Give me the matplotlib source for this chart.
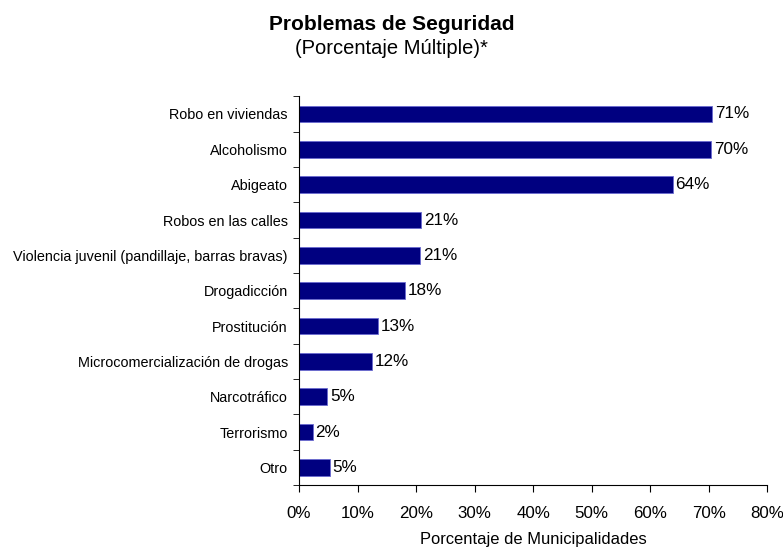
import matplotlib.pyplot as plt
import numpy as np

plt.rcParams['font.family'] = ['Liberation Sans', 'DejaVu Sans']

categorias = ['Robo en viviendas', 'Alcoholismo', 'Abigeato', 'Robos en las calles',
              'Violencia juvenil (pandillaje, barras bravas)', 'Drogadicción', 'Prostitución',
              'Microcomercialización de drogas', 'Narcotráfico', 'Terrorismo', 'Otro']
valores = [70.6, 70.4, 63.8, 20.9, 20.7, 18.1, 13.4, 12.4, 4.8, 2.3, 5.2]
etiquetas = ['71%', '70%', '64%', '21%', '21%', '18%', '13%', '12%', '5%', '2%', '5%']
xticks = [0, 10, 20, 30, 40, 50, 60, 70, 80]

fig = plt.figure(figsize=(7.83, 5.47), dpi=100)
ax = fig.add_axes([0.382, 0.113, 0.598, 0.711])

y = np.arange(len(categorias))
ax.barh(y, valores, height=0.47, color='#000080', edgecolor='#6a6ad0', linewidth=0.6)
for yi, v, lab in zip(y, valores, etiquetas):
    ax.text(v + 0.5, yi, lab, va='center', ha='left', fontsize=12.3)

ax.set_ylim(len(categorias) - 0.5, -0.5)
ax.set_xlim(0, 80)
ax.set_yticks(y)
ax.set_yticklabels(categorias, fontsize=10.4)
ax.set_yticks(np.arange(-0.5, len(categorias)), minor=True)
ax.tick_params(axis='y', which='major', length=0, pad=8)
ax.tick_params(axis='y', which='minor', length=4, direction='out')
ax.set_xticks(xticks)
ax.set_xticklabels([f'{t}%' for t in xticks], fontsize=12.2)
ax.tick_params(axis='x', length=5, direction='out', pad=10)
ax.spines['top'].set_visible(False)
ax.spines['right'].set_visible(False)
ax.set_xlabel('Porcentaje de Municipalidades', fontsize=11.9, labelpad=8)

fig.text(0.5, 0.956, 'Problemas de Seguridad', ha='center', va='center', fontsize=15, fontweight='bold')
fig.text(0.5, 0.911, '(Porcentaje Múltiple)*', ha='center', va='center', fontsize=14.5)

fig.savefig('out.png', dpi=100)
